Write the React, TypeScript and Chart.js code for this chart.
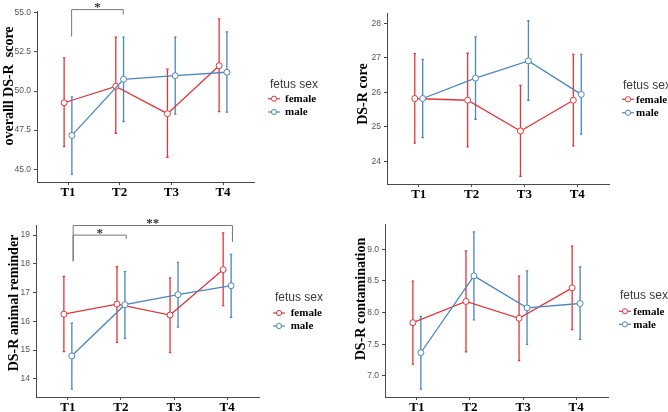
import React, { useEffect, useRef } from 'react';
import { Chart, registerables } from 'chart.js';

Chart.register(...registerables);

// ---------- data ----------
const timepoints = ['T1', 'T2', 'T3', 'T4'];
const groups = ['female', 'male'];

// overall DS-R score
const overallFemaleMean = [49.25, 50.3, 48.55, 51.62];
const overallFemaleLow = [46.44, 47.3, 45.75, 48.68];
const overallFemaleHigh = [52.12, 53.45, 51.4, 54.62];
const overallMaleMean = [47.16, 50.75, 50.98, 51.2];
const overallMaleLow = [44.68, 48.05, 48.52, 48.65];
const overallMaleHigh = [49.62, 53.45, 53.45, 53.79];
const overallTicks = [45.0, 47.5, 50.0, 52.5, 55.0];

// DS-R core
const coreFemaleMean = [25.82, 25.77, 24.88, 25.77];
const coreFemaleLow = [24.53, 24.42, 23.57, 24.45];
const coreFemaleHigh = [27.12, 27.13, 26.2, 27.1];
const coreMaleMean = [25.82, 26.41, 26.91, 25.94];
const coreMaleLow = [24.69, 25.22, 25.77, 24.79];
const coreMaleHigh = [26.95, 27.6, 28.07, 27.1];
const coreTicks = [24, 25, 26, 27, 28];

// DS-R animal reminder
const animalFemaleMean = [16.25, 16.6, 16.22, 17.8];
const animalFemaleLow = [14.95, 15.27, 14.91, 16.55];
const animalFemaleHigh = [17.56, 17.9, 17.51, 19.08];
const animalMaleMean = [14.8, 16.58, 16.93, 17.24];
const animalMaleLow = [13.64, 15.41, 15.8, 16.14];
const animalMaleHigh = [15.94, 17.73, 18.05, 18.33];
const animalTicks = [14, 15, 16, 17, 18, 19];

// DS-R contamination
const contamFemaleMean = [7.84, 8.175, 7.91, 8.39];
const contamFemaleLow = [7.185, 7.38, 7.243, 7.73];
const contamFemaleHigh = [8.497, 8.974, 8.577, 9.05];
const contamMaleMean = [7.365, 8.58, 8.074, 8.143];
const contamMaleLow = [6.79, 7.884, 7.497, 7.577];
const contamMaleHigh = [7.94, 9.275, 8.66, 8.72];
const contamTicks = [7.0, 7.5, 8.0, 8.5, 9.0];

// significance brackets (group comparisons)
const overallBrackets = [
  { from: 1, to: 2, y: 55.21, leftEnd: 53.49, rightEnd: 54.9, label: '*', labelY: 55.46 },
];
const animalBrackets = [
  { from: 1, to: 2, y: 19.0, leftEnd: 18.09, rightEnd: 18.87, label: '*', labelY: 19.13 },
  { from: 1, to: 4, y: 19.335, leftEnd: 18.09, rightEnd: 18.76, label: '**', labelY: 19.47 },
];

// ---------- styling ----------
const RED = '#E3363B';
const BLUE = '#4A86C0';
const AXIS = '#4a4a4a';
const DODGE = 0.075;
const W = 334;
const H = 206;
const SERIF = '"Liberation Serif", "Times New Roman", serif';
const SANS = '"Liberation Sans", Arial, sans-serif';

type Bracket = { from: number; to: number; y: number; leftEnd: number; rightEnd: number; label: string; labelY: number };

type PanelCfg = {
  left: number; top: number;
  plot: { l: number; r: number; t: number; b: number };
  yMin: number; yMax: number; yTicks: number[]; decimals: number;
  title: string; titleX: number; titleY: number;
  legend: { tx: number; ty: number; mx: number; lx: number; r1: number; r2: number };
  female: [number[], number[], number[]];
  male: [number[], number[], number[]];
  brackets: Bracket[]; bracketDx: number;
};

const panels: PanelCfg[] = [
  {
    left: 0, top: 0,
    plot: { l: 37, r: 254, t: 11, b: 182 },
    yMin: 44.18, yMax: 55.12, yTicks: overallTicks, decimals: 1,
    title: 'overalll DS-R  score', titleX: 13, titleY: 86,
    legend: { tx: 270, ty: 85, mx: 274, lx: 285, r1: 98.7, r2: 112 },
    female: [overallFemaleMean, overallFemaleLow, overallFemaleHigh],
    male: [overallMaleMean, overallMaleLow, overallMaleHigh],
    brackets: overallBrackets, bracketDx: 0.07,
  },
  {
    left: 334, top: 0,
    plot: { l: 53, r: 275, t: 13, b: 184 },
    yMin: 23.345, yMax: 28.295, yTicks: coreTicks, decimals: 0,
    title: 'DS-R core', titleX: 33, titleY: 94,
    legend: { tx: 289, ty: 86, mx: 294, lx: 302, r1: 99.3, r2: 112.7 },
    female: [coreFemaleMean, coreFemaleLow, coreFemaleHigh],
    male: [coreMaleMean, coreMaleLow, coreMaleHigh],
    brackets: [], bracketDx: 0,
  },
  {
    left: 0, top: 206,
    plot: { l: 36, r: 259, t: 19, b: 191 },
    yMin: 13.368, yMax: 19.352, yTicks: animalTicks, decimals: 0,
    title: 'DS-R animal reminder', titleX: 18, titleY: 97,
    legend: { tx: 275, ty: 91.7, mx: 279, lx: 290.7, r1: 107, r2: 120 },
    female: [animalFemaleMean, animalFemaleLow, animalFemaleHigh],
    male: [animalMaleMean, animalMaleLow, animalMaleHigh],
    brackets: animalBrackets, bracketDx: 0.1,
  },
  {
    left: 334, top: 206,
    plot: { l: 51, r: 274, t: 18, b: 191 },
    yMin: 6.666, yMax: 9.399, yTicks: contamTicks, decimals: 1,
    title: 'DS-R contamination', titleX: 31, titleY: 93,
    legend: { tx: 286, ty: 90, mx: 291, lx: 299.3, r1: 105.3, r2: 118.3 },
    female: [contamFemaleMean, contamFemaleLow, contamFemaleHigh],
    male: [contamMaleMean, contamMaleLow, contamMaleHigh],
    brackets: [], bracketDx: 0,
  },
];

function makeDataset(label: string, color: string, vals: [number[], number[], number[]], dx: number, order: number) {
  const [mean, low, high] = vals;
  return {
    label,
    data: mean.map((m, i) => ({ x: i + 1 + dx, y: m })),
    low,
    high,
    dx,
    borderColor: color,
    borderWidth: 1.3,
    pointRadius: 3,
    pointHoverRadius: 3,
    pointBackgroundColor: '#ffffff',
    pointBorderColor: color,
    pointBorderWidth: 1,
    tension: 0,
    order,
  } as any;
}

function Panel({ cfg }: { cfg: PanelCfg }) {
  const ref = useRef<HTMLCanvasElement | null>(null);

  useEffect(() => {
    if (!ref.current) return;
    const { plot } = cfg;

    const errorBars = {
      id: 'errorBars',
      beforeDatasetsDraw(chart: any) {
        const ctx = chart.ctx;
        const xs = chart.scales.x;
        const ys = chart.scales.y;
        chart.data.datasets.forEach((ds: any) => {
          ctx.save();
          ctx.strokeStyle = ds.borderColor;
          ctx.lineWidth = 1.3;
          ds.data.forEach((p: any, i: number) => {
            const x = xs.getPixelForValue(p.x);
            const y1 = ys.getPixelForValue(ds.low[i]);
            const y2 = ys.getPixelForValue(ds.high[i]);
            ctx.beginPath();
            ctx.moveTo(x, y1);
            ctx.lineTo(x, y2);
            ctx.moveTo(x - 1.2, y1);
            ctx.lineTo(x + 1.2, y1);
            ctx.moveTo(x - 1.2, y2);
            ctx.lineTo(x + 1.2, y2);
            ctx.stroke();
          });
          ctx.restore();
        });
      },
    };

    const overlay = {
      id: 'overlay',
      afterDraw(chart: any) {
        const ctx = chart.ctx;
        const xs = chart.scales.x;
        const ys = chart.scales.y;

        // brackets
        cfg.brackets.forEach((b) => {
          const x1 = xs.getPixelForValue(b.from + cfg.bracketDx);
          const x2 = xs.getPixelForValue(b.to + cfg.bracketDx);
          const y = ys.getPixelForValue(b.y);
          ctx.save();
          ctx.strokeStyle = '#777777';
          ctx.lineWidth = 1;
          ctx.beginPath();
          ctx.moveTo(x1, ys.getPixelForValue(b.leftEnd));
          ctx.lineTo(x1, y);
          ctx.lineTo(x2, y);
          ctx.lineTo(x2, ys.getPixelForValue(b.rightEnd));
          ctx.stroke();
          ctx.fillStyle = '#333333';
          ctx.font = `bold 13px ${SERIF}`;
          ctx.textAlign = 'center';
          ctx.textBaseline = 'middle';
          ctx.fillText(b.label, (x1 + x2) / 2, ys.getPixelForValue(b.labelY) + 2);
          ctx.restore();
        });

        // y title
        ctx.save();
        ctx.translate(cfg.titleX, cfg.titleY);
        ctx.rotate(-Math.PI / 2);
        ctx.fillStyle = '#000000';
        ctx.font = `bold 14px ${SERIF}`;
        ctx.textAlign = 'center';
        ctx.textBaseline = 'alphabetic';
        ctx.fillText(cfg.title, 0, 0);
        ctx.restore();

        // legend
        const lg = cfg.legend;
        ctx.save();
        ctx.fillStyle = '#3a3a3a';
        ctx.font = `12px ${SANS}`;
        ctx.textAlign = 'left';
        ctx.textBaseline = 'middle';
        ctx.fillText('fetus sex', lg.tx, lg.ty);
        const rows = [lg.r1, lg.r2];
        const cols = [RED, BLUE];
        groups.forEach((g, i) => {
          const ry = rows[i];
          ctx.strokeStyle = cols[i];
          ctx.lineWidth = 1.2;
          ctx.beginPath();
          ctx.moveTo(lg.mx - 6, ry);
          ctx.lineTo(lg.mx + 6, ry);
          ctx.stroke();
          ctx.beginPath();
          ctx.arc(lg.mx, ry, 2.6, 0, Math.PI * 2);
          ctx.fillStyle = '#ffffff';
          ctx.fill();
          ctx.lineWidth = 1;
          ctx.stroke();
          ctx.fillStyle = '#000000';
          ctx.font = `bold 11px ${SERIF}`;
          ctx.fillText(g, lg.lx, ry + 0.5);
        });
        ctx.restore();
      },
    };

    const chart = new Chart(ref.current, {
      type: 'line',
      data: {
        datasets: [
          makeDataset('female', RED, cfg.female, -DODGE, 1),
          makeDataset('male', BLUE, cfg.male, DODGE, 0),
        ],
      },
      options: {
        animation: false,
        responsive: false,
        maintainAspectRatio: false,
        devicePixelRatio: 1,
        layout: { padding: { top: plot.t, right: W - plot.r, left: 0, bottom: 0 } },
        plugins: { legend: { display: false }, tooltip: { enabled: false } },
        events: [],
        scales: {
          x: {
            type: 'linear',
            min: 0.4,
            max: 4.6,
            afterBuildTicks: (s: any) => {
              s.ticks = timepoints.map((_, i) => ({ value: i + 1 }));
            },
            afterFit: (s: any) => {
              s.height = H - plot.b;
            },
            ticks: {
              autoSkip: false,
              maxRotation: 0,
              padding: 0,
              color: '#000000',
              font: { family: SERIF, weight: 'bold', size: 13, lineHeight: 1.1 },
              callback: (v: any) => timepoints[Math.round(Number(v)) - 1] ?? '',
            },
            grid: { display: true, drawOnChartArea: false, drawTicks: true, tickLength: 3, color: AXIS, lineWidth: 1 },
            border: { display: true, color: AXIS, width: 1 },
          },
          y: {
            type: 'linear',
            min: cfg.yMin,
            max: cfg.yMax,
            afterBuildTicks: (s: any) => {
              s.ticks = cfg.yTicks.map((v) => ({ value: v }));
            },
            afterFit: (s: any) => {
              s.width = plot.l;
            },
            ticks: {
              autoSkip: false,
              padding: 3,
              color: '#555555',
              font: { family: SANS, size: 8.5 },
              callback: (v: any) => Number(v).toFixed(cfg.decimals),
            },
            grid: { display: true, drawOnChartArea: false, drawTicks: true, tickLength: 3, color: AXIS, lineWidth: 1 },
            border: { display: true, color: AXIS, width: 1 },
          },
        },
      } as any,
      plugins: [errorBars, overlay],
    });
    return () => chart.destroy();
  }, [cfg]);

  return (
    <div style={{ position: 'absolute', left: cfg.left, top: cfg.top, width: W, height: H }}>
      <canvas ref={ref} width={W} height={H} style={{ width: W, height: H, display: 'block' }} />
    </div>
  );
}

export default function App() {
  return (
    <div style={{ position: 'fixed', left: 0, top: 0, width: 668, height: 412, background: '#ffffff' }}>
      {panels.map((p, i) => (
        <Panel key={i} cfg={p} />
      ))}
    </div>
  );
}
